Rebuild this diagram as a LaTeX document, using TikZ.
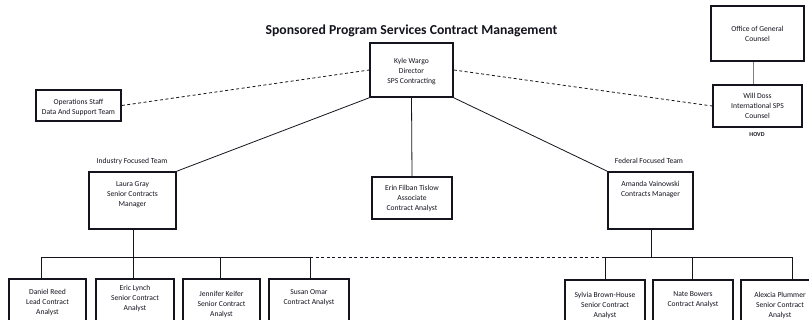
\documentclass[tikz,border=0pt]{standalone}
\usepackage{fontspec}
\setmainfont{Carlito}
\usetikzlibrary{fit}
\definecolor{ink}{rgb}{0.08,0.08,0.12}
\tikzset{
  bx/.style={draw=ink, line width=1.6pt, inner sep=0pt},
  txt/.style={text=ink, font=\fontsize{7.6}{10}\selectfont, align=center, inner sep=0pt},
  conn/.style={draw=ink, line width=0.8pt},
  dconn/.style={draw=ink, line width=0.8pt, dash pattern=on 3pt off 2.5pt},
}
\begin{document}
\begin{tikzpicture}[x=1pt,y=-1pt]
\clip (0,0) rectangle (809,320);
\fill[white] (0,0) rectangle (809,320);
% title
\node[text=ink, font=\fontsize{13.7}{16}\selectfont\bfseries, inner sep=0pt] (title) at (411.5,31) {Sponsored Program Services Contract Management};
% boxes
\node[bx, fit={(370,43) (453,97)}] (kyle) {};
\node[txt] (kylet) at (411.5,72) {Kyle Wargo\\Director\\SPS Contracting};
\node[bx, fit={(36,90) (121,121)}] (ops) {};
\node[txt] (opst) at (78.5,107) {Operations Staff\\Data And Support Team};
\node[bx, fit={(711,6) (804,61)}] (ogc) {};
\node[txt] (ogct) at (757.5,34) {Office of General\\Counsel};
\node[bx, fit={(713,85) (802,127)}] (will) {};
\node[txt] (willt) at (757.5,106) {Will Doss\\International SPS\\Counsel};
\node[text=ink, font=\fontsize{6}{7}\selectfont\bfseries, inner sep=0pt] (hovd) at (757,135) {HOVD};
\node[bx, fit={(89,172) (176,229)}] (laura) {};
\node[txt] (laurat) at (132.5,194.5) {Laura Gray\\Senior Contracts\\Manager};
\node[txt] (ind) at (132,161) {Industry Focused Team};
\node[bx, fit={(372,177) (452,219)}] (erin) {};
\node[txt] (erint) at (412,198) {Erin Filban Tislow\\Associate\\Contract Analyst};
\node[bx, fit={(608,172) (693,229)}] (amanda) {};
\node[txt] (amandat) at (650.5,190) {Amanda Vainowski\\Contracts Manager};
\node[txt] (fed) at (649,161) {Federal Focused Team};
% bottom row
\node[bx, fit={(9,279) (86,340)}] (daniel) {};
\node[txt] (danielt) at (47.5,302) {Daniel Reed\\Lead Contract\\Analyst};
\node[bx, fit={(96,279) (174,340)}] (eric) {};
\node[txt] (erict) at (135,298.5) {Eric Lynch\\Senior Contract\\Analyst};
\node[bx, fit={(183,279) (260,340)}] (jen) {};
\node[txt] (jent) at (221.5,304) {Jennifer Keifer\\Senior Contract\\Analyst};
\node[bx, fit={(269,279) (349,340)}] (susan) {};
\node[txt] (susant) at (309,298) {Susan Omar\\Contract Analyst};
\node[bx, fit={(565,280) (645,340)}] (sylvia) {};
\node[txt] (sylviat) at (605,305.5) {Sylvia Brown-House\\Senior Contract\\Analyst};
\node[bx, fit={(653,280) (733,340)}] (nate) {};
\node[txt] (natet) at (693,299.5) {Nate Bowers\\Contract Analyst};
\node[bx, fit={(741,280) (820,340)}] (alex) {};
\node[txt] (alext) at (780,305.5) {Alexcia Plummer\\Senior Contract\\Analyst};
% connectors top
\draw[dconn] (ops.east) -- (kyle.west);
\draw[dconn] (kyle.east) -- (will.west);
\draw[draw=gray, line width=1pt] ([xshift=-4pt]ogc.south) -- ([xshift=-4pt]will.north);
\draw[conn] (kyle.south west) -- (laura.north east);
\draw[conn] (kyle.south east) -- (amanda.north west);
\draw[conn] (kyle.south) -- (erin.north);
% bus
\coordinate (bDan) at (41,257);
\coordinate (bLau) at (133,257);
\coordinate (bJen) at (220,257);
\coordinate (bSus) at (310,257);
\coordinate (bSyl) at (605,257);
\coordinate (bAma) at (651,257);
\coordinate (bNat) at (692,257);
\coordinate (bAle) at (792,257);
\draw[conn] (bLau |- laura.south) -- (bLau |- eric.north);
\draw[conn] (bAma |- amanda.south) -- (bAma);
\draw[conn] (bDan) -- (bSus);
\draw[dconn] (bSus) -- (bSyl);
\draw[conn] (bSyl) -- (bAle);
\draw[conn] (bDan) -- (bDan |- daniel.north);
\draw[conn] (bJen) -- (bJen |- jen.north);
\draw[conn] (bSus) -- (bSus |- susan.north);
\draw[conn] (bSyl) -- (bSyl |- sylvia.north);
\draw[conn] (bNat) -- (bNat |- nate.north);
\draw[conn] (bAle) -- (bAle |- alex.north);
\end{tikzpicture}
\end{document}
